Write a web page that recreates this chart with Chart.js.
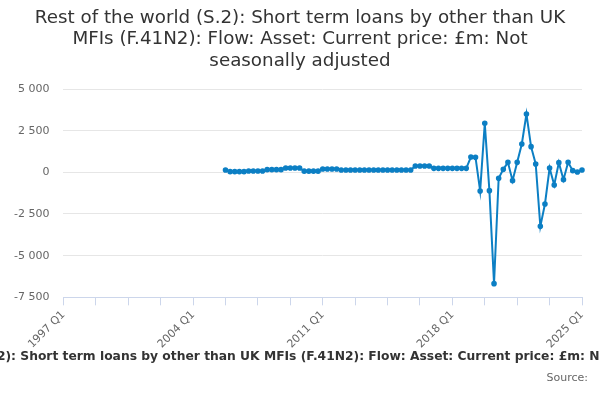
<!DOCTYPE html>
<html>
<head>
<meta charset="utf-8">
<script src="https://cdn.jsdelivr.net/npm/chart.js@4"></script>
<style>
  html, body { margin: 0; padding: 0; background: #fff; }
  #wrap { width: 600px; height: 400px; position: relative; }
</style>
</head>
<body>
<div id="wrap"><canvas id="chart"></canvas></div>
<script>
// axis runs 1997 Q1 .. 2025 Q1, series starts later
const firstYear = 1997;
const lastYear = 2025;
const seriesStart = '2005 Q4';
const tickLabels = ['1997 Q1', '2004 Q1', '2011 Q1', '2018 Q1', '2025 Q1'];
const yTicks = [-7500, -5000, -2500, 0, 2500, 5000];

// £m, 2005 Q4 .. 2025 Q1
const values = [
  140,
  40, 40, 40, 40,
  80, 80, 80, 80,
  160, 160, 160, 160,
  260, 260, 260, 260,
  70, 70, 70, 70,
  200, 200, 200, 200,
  140, 140, 140, 140, 140, 140, 140, 140,
  140, 140, 140, 140, 140, 140, 140, 140,
  380, 380, 380, 380,
  240, 240, 240, 240, 240, 240, 240, 240,
  920, 900, -1120, 2940, -1100, -6680, -360, 180,
  600, -500, 600, 1700, 3500, 1540, 500, -3240,
  -1900, 260, -760, 580, -440, 600, 100, 20,
  140
];

const title = 'Rest of the world (S.2): Short term loans by other than UK MFIs (F.41N2): Flow: Asset: Current price: £m: Not seasonally adjusted';
const titleLines = [
  'Rest of the world (S.2): Short term loans by other than UK',
  'MFIs (F.41N2): Flow: Asset: Current price: £m: Not',
  'seasonally adjusted'
];

const quarters = [];
for (let y = firstYear; y <= lastYear; y++) {
  for (let q = 1; q <= 4; q++) {
    quarters.push(y + ' Q' + q);
    if (y === lastYear) break;
  }
}
const startIdx = quarters.indexOf(seriesStart);
const data = quarters.map((_, i) => (i < startIdx ? null : values[i - startIdx]));

function fmt(v) {
  const s = Math.abs(v).toString().replace(/\B(?=(\d{3})+(?!\d))/g, ' ');
  return (v < 0 ? '-' : '') + s;
}

// title, caption and source drawn on the whole canvas
const texts = {
  id: 'texts',
  afterDraw(chart) {
    const ctx = chart.ctx;
    ctx.save();
    ctx.textAlign = 'center';
    ctx.textBaseline = 'middle';
    ctx.fillStyle = '#333333';
    ctx.font = '18.3px "DejaVu Sans"';
    titleLines.forEach((t, i) => ctx.fillText(t, 300, 18 + i * 21.7));
    ctx.font = 'bold 12.3px "DejaVu Sans"';
    ctx.fillText(title, 305, 357);
    ctx.fillStyle = '#666666';
    ctx.font = '11px "DejaVu Sans"';
    ctx.textAlign = 'right';
    ctx.fillText('Source:', 588, 378);
    ctx.restore();
  }
};

new Chart(document.getElementById('chart'), {
  type: 'line',
  data: {
    labels: quarters,
    datasets: [{
      label: title,
      data: data,
      borderColor: '#0c7fc4',
      backgroundColor: '#0c7fc4',
      borderWidth: 2,
      pointRadius: 1.8,
      pointHoverRadius: 3,
      tension: 0,
      spanGaps: false
    }]
  },
  options: {
    responsive: true,
    maintainAspectRatio: false,
    animation: false,
    layout: { padding: { left: 0, right: 18, top: 89, bottom: 46 } },
    plugins: {
      legend: { display: false },
      tooltip: { enabled: false },
      title: { display: false }
    },
    scales: {
      x: {
        ticks: {
          autoSkip: false,
          minRotation: 45,
          maxRotation: 45,
          color: '#666666',
          font: { family: '"DejaVu Sans"', size: 11 },
          callback: function (v, i) {
            const lab = quarters[i];
            if (tickLabels.includes(lab)) return lab;
            return i % 7 === 0 ? '' : null;
          }
        },
        grid: {
          drawOnChartArea: false,
          drawTicks: true,
          tickLength: 8,
          color: '#ccd6eb'
        },
        border: { color: '#ccd6eb' }
      },
      y: {
        min: -7500,
        max: 5000,
        afterBuildTicks: function (axis) {
          axis.ticks = yTicks.map(v => ({ value: v }));
        },
        ticks: {
          color: '#666666',
          padding: 14,
          font: { family: '"DejaVu Sans"', size: 11 },
          callback: v => fmt(v)
        },
        grid: { color: '#e6e6e6', drawTicks: false },
        border: { display: false }
      }
    }
  },
  plugins: [texts]
});
</script>
</body>
</html>
